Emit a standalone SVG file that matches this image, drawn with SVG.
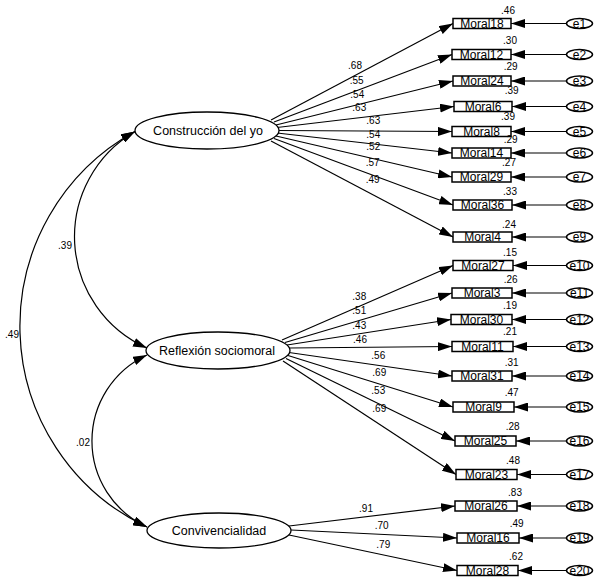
<svg xmlns="http://www.w3.org/2000/svg" width="600" height="586" viewBox="0 0 600 586">
<style>
.bg{fill:#fff}
.lat{fill:#fff;stroke:#000;stroke-width:1.3}
.box{fill:#fff;stroke:#000;stroke-width:1.5}
.err{fill:#fff;stroke:#000;stroke-width:1.5}
.ln{fill:none;stroke:#000;stroke-width:1.2;marker-end:url(#ah)}
.cov{fill:none;stroke:#000;stroke-width:1.2;marker-start:url(#ah);marker-end:url(#ah)}
text{font-family:"Liberation Sans",Arial,sans-serif;fill:#000}
.lt{font-size:12.5px;text-anchor:middle}
.bt{font-size:12px;text-anchor:middle}
.et{font-size:12px;text-anchor:middle}
.nm{font-size:10px;text-anchor:middle}
</style>
<defs>
<marker id="ah" viewBox="0 0 14 9" refX="14" refY="4.5" markerWidth="14" markerHeight="9" markerUnits="userSpaceOnUse" orient="auto-start-reverse"><path d="M0,0L14,4.5L0,9z" fill="#000"/></marker>
</defs>
<rect class="bg" x="0" y="0" width="600" height="586"/>
<g id="connectors">
<path class="cov" d="M135,131.5 A121.7,121.7 0 0 0 147,348"/>
<path class="cov" d="M135,131.5 A222.2,222.2 0 0 0 147,527"/>
<path class="cov" d="M147,355 A94.7,94.7 0 0 0 147,527"/>
<line class="ln" x1="271" y1="120" x2="453" y2="23.5"/>
<line class="ln" x1="274" y1="122" x2="452" y2="54.5"/>
<line class="ln" x1="276" y1="125" x2="453" y2="81"/>
<line class="ln" x1="277" y1="127.5" x2="454" y2="106.5"/>
<line class="ln" x1="278" y1="130.5" x2="452" y2="131.5"/>
<line class="ln" x1="277" y1="133" x2="452" y2="153"/>
<line class="ln" x1="276" y1="136" x2="452" y2="177"/>
<line class="ln" x1="274" y1="138.5" x2="453" y2="205"/>
<line class="ln" x1="271" y1="141" x2="453" y2="237"/>
<line class="ln" x1="282" y1="340" x2="453" y2="265.5"/>
<line class="ln" x1="285" y1="342.5" x2="452" y2="293"/>
<line class="ln" x1="287" y1="345" x2="451" y2="319.5"/>
<line class="ln" x1="289" y1="348" x2="452" y2="346.5"/>
<line class="ln" x1="289" y1="352.5" x2="452" y2="376"/>
<line class="ln" x1="288" y1="355.5" x2="453" y2="407"/>
<line class="ln" x1="286" y1="358.5" x2="455" y2="441"/>
<line class="ln" x1="283" y1="361" x2="456" y2="474.5"/>
<line class="ln" x1="289" y1="526" x2="455" y2="506"/>
<line class="ln" x1="291" y1="530" x2="457" y2="538"/>
<line class="ln" x1="289" y1="535" x2="457" y2="570.5"/>
<line class="ln" x1="566.5" y1="23.5" x2="511" y2="23.5"/>
<line class="ln" x1="566.5" y1="54.5" x2="511" y2="54.5"/>
<line class="ln" x1="566.5" y1="81" x2="511" y2="81"/>
<line class="ln" x1="566.5" y1="106.5" x2="512" y2="106.5"/>
<line class="ln" x1="566.5" y1="131.5" x2="511" y2="131.5"/>
<line class="ln" x1="566.5" y1="153" x2="511" y2="153"/>
<line class="ln" x1="566.5" y1="177" x2="511" y2="177"/>
<line class="ln" x1="566.5" y1="205" x2="512" y2="205"/>
<line class="ln" x1="566.5" y1="237" x2="512" y2="237"/>
<line class="ln" x1="566.5" y1="265.5" x2="513" y2="265.5"/>
<line class="ln" x1="566.5" y1="293" x2="512" y2="293"/>
<line class="ln" x1="566.5" y1="319.5" x2="512" y2="319.5"/>
<line class="ln" x1="566.5" y1="346.5" x2="513" y2="346.5"/>
<line class="ln" x1="566.5" y1="376" x2="512" y2="376"/>
<line class="ln" x1="566.5" y1="407" x2="514" y2="407"/>
<line class="ln" x1="566.5" y1="441" x2="516" y2="441"/>
<line class="ln" x1="566.5" y1="474.5" x2="517" y2="474.5"/>
<line class="ln" x1="566.5" y1="506" x2="517" y2="506"/>
<line class="ln" x1="566.5" y1="538" x2="519" y2="538"/>
<line class="ln" x1="566.5" y1="570.5" x2="518" y2="570.5"/>
<text class="nm" x="65" y="248.5">.39</text>
<text class="nm" x="12" y="337.5">.49</text>
<text class="nm" x="83" y="445.5">.02</text>
<text class="nm" x="355" y="68.5">.68</text>
<text class="nm" x="356.7" y="83.5">.55</text>
<text class="nm" x="357.3" y="97.5">.54</text>
<text class="nm" x="359.3" y="110.8">.63</text>
<text class="nm" x="373.3" y="123.5">.63</text>
<text class="nm" x="373.3" y="137.5">.54</text>
<text class="nm" x="373.3" y="150.2">.52</text>
<text class="nm" x="372.7" y="166.2">.57</text>
<text class="nm" x="372.7" y="182.8">.49</text>
<text class="nm" x="359.3" y="300.2">.38</text>
<text class="nm" x="359.3" y="314.2">.51</text>
<text class="nm" x="359.3" y="328.5">.43</text>
<text class="nm" x="360" y="342.8">.46</text>
<text class="nm" x="378.3" y="358.5">.56</text>
<text class="nm" x="379.3" y="375.5">.69</text>
<text class="nm" x="378.3" y="393.5">.53</text>
<text class="nm" x="379.3" y="411.8">.69</text>
<text class="nm" x="366" y="511.8">.91</text>
<text class="nm" x="381.7" y="529.2">.70</text>
<text class="nm" x="383.3" y="547.8">.79</text>
</g>
<g id="construccion"><ellipse class="lat" cx="207" cy="130.5" rx="72" ry="18.5"/><text class="lt" x="208" y="135">Construcción del yo</text></g>
<g id="reflexion"><ellipse class="lat" cx="218" cy="350.5" rx="72" ry="18.5"/><text class="lt" x="217" y="355">Reflexión sociomoral</text></g>
<g id="convivencialidad"><ellipse class="lat" cx="219" cy="530.5" rx="72" ry="17.5"/><text class="lt" x="219" y="535">Convivencialidad</text></g>
<g id="moral18"><rect class="box" x="453" y="18.5" width="58" height="10"/><text class="bt" x="482" y="27.8">Moral18</text><text class="nm" x="508" y="13.5">.46</text></g>
<g id="moral12"><rect class="box" x="452" y="49.5" width="59" height="10"/><text class="bt" x="481.5" y="58.8">Moral12</text><text class="nm" x="510" y="44.2">.30</text></g>
<g id="moral24"><rect class="box" x="453" y="76" width="58" height="10"/><text class="bt" x="482" y="85.3">Moral24</text><text class="nm" x="510.7" y="70.2">.29</text></g>
<g id="moral6"><rect class="box" x="454" y="101.5" width="58" height="10"/><text class="bt" x="483" y="110.8">Moral6</text><text class="nm" x="511.7" y="94.2">.39</text></g>
<g id="moral8"><rect class="box" x="452" y="126.5" width="59" height="10"/><text class="bt" x="481.5" y="135.8">Moral8</text><text class="nm" x="508" y="119.5">.39</text></g>
<g id="moral14"><rect class="box" x="452" y="148" width="59" height="10"/><text class="bt" x="481.5" y="157.3">Moral14</text><text class="nm" x="510.7" y="142.5">.29</text></g>
<g id="moral29"><rect class="box" x="452" y="172" width="59" height="10"/><text class="bt" x="481.5" y="181.3">Moral29</text><text class="nm" x="509" y="166.2">.27</text></g>
<g id="moral36"><rect class="box" x="453" y="200" width="59" height="10"/><text class="bt" x="482.5" y="209.3">Moral36</text><text class="nm" x="510" y="194.5">.33</text></g>
<g id="moral4"><rect class="box" x="453" y="232" width="59" height="10"/><text class="bt" x="482.5" y="241.3">Moral4</text><text class="nm" x="509" y="227.8">.24</text></g>
<g id="moral27"><rect class="box" x="453" y="260.5" width="60" height="10"/><text class="bt" x="483" y="269.8">Moral27</text><text class="nm" x="510" y="255.5">.15</text></g>
<g id="moral3"><rect class="box" x="452" y="288" width="60" height="10"/><text class="bt" x="482" y="297.3">Moral3</text><text class="nm" x="510.7" y="282.8">.26</text></g>
<g id="moral30"><rect class="box" x="451" y="314.5" width="61" height="10"/><text class="bt" x="481.5" y="323.8">Moral30</text><text class="nm" x="510" y="308.5">.19</text></g>
<g id="moral11"><rect class="box" x="452" y="341.5" width="61" height="10"/><text class="bt" x="482.5" y="350.8">Moral11</text><text class="nm" x="510" y="335.2">.21</text></g>
<g id="moral31"><rect class="box" x="452" y="371" width="60" height="10"/><text class="bt" x="482" y="380.3">Moral31</text><text class="nm" x="511.7" y="366.2">.31</text></g>
<g id="moral9"><rect class="box" x="453" y="402" width="61" height="10"/><text class="bt" x="483.5" y="411.3">Moral9</text><text class="nm" x="511.7" y="396.2">.47</text></g>
<g id="moral25"><rect class="box" x="455" y="436" width="61" height="10"/><text class="bt" x="485.5" y="445.3">Moral25</text><text class="nm" x="512.7" y="430.2">.28</text></g>
<g id="moral23"><rect class="box" x="456" y="469.5" width="61" height="10"/><text class="bt" x="486.5" y="478.8">Moral23</text><text class="nm" x="513" y="463.5">.48</text></g>
<g id="moral26"><rect class="box" x="455" y="501" width="62" height="10"/><text class="bt" x="486" y="510.3">Moral26</text><text class="nm" x="515" y="496.2">.83</text></g>
<g id="moral16"><rect class="box" x="457" y="533" width="62" height="10"/><text class="bt" x="488" y="542.3">Moral16</text><text class="nm" x="516.7" y="526.8">.49</text></g>
<g id="moral28"><rect class="box" x="457" y="565.5" width="61" height="10"/><text class="bt" x="487.5" y="574.8">Moral28</text><text class="nm" x="516" y="560.2">.62</text></g>
<g id="e1"><ellipse class="err" cx="579.5" cy="23.5" rx="13" ry="5"/><text class="et" x="579.5" y="27.8">e1</text></g>
<g id="e2"><ellipse class="err" cx="579.5" cy="54.5" rx="13" ry="5"/><text class="et" x="579.5" y="58.8">e2</text></g>
<g id="e3"><ellipse class="err" cx="579.5" cy="81" rx="13" ry="5"/><text class="et" x="579.5" y="85.3">e3</text></g>
<g id="e4"><ellipse class="err" cx="579.5" cy="106.5" rx="13" ry="5"/><text class="et" x="579.5" y="110.8">e4</text></g>
<g id="e5"><ellipse class="err" cx="579.5" cy="131.5" rx="13" ry="5"/><text class="et" x="579.5" y="135.8">e5</text></g>
<g id="e6"><ellipse class="err" cx="579.5" cy="153" rx="13" ry="5"/><text class="et" x="579.5" y="157.3">e6</text></g>
<g id="e7"><ellipse class="err" cx="579.5" cy="177" rx="13" ry="5"/><text class="et" x="579.5" y="181.3">e7</text></g>
<g id="e8"><ellipse class="err" cx="579.5" cy="205" rx="13" ry="5"/><text class="et" x="579.5" y="209.3">e8</text></g>
<g id="e9"><ellipse class="err" cx="579.5" cy="237" rx="13" ry="5"/><text class="et" x="579.5" y="241.3">e9</text></g>
<g id="e10"><ellipse class="err" cx="579.5" cy="265.5" rx="13" ry="5"/><text class="et" x="579.5" y="269.8">e10</text></g>
<g id="e11"><ellipse class="err" cx="579.5" cy="293" rx="13" ry="5"/><text class="et" x="579.5" y="297.3">e11</text></g>
<g id="e12"><ellipse class="err" cx="579.5" cy="319.5" rx="13" ry="5"/><text class="et" x="579.5" y="323.8">e12</text></g>
<g id="e13"><ellipse class="err" cx="579.5" cy="346.5" rx="13" ry="5"/><text class="et" x="579.5" y="350.8">e13</text></g>
<g id="e14"><ellipse class="err" cx="579.5" cy="376" rx="13" ry="5"/><text class="et" x="579.5" y="380.3">e14</text></g>
<g id="e15"><ellipse class="err" cx="579.5" cy="407" rx="13" ry="5"/><text class="et" x="579.5" y="411.3">e15</text></g>
<g id="e16"><ellipse class="err" cx="579.5" cy="441" rx="13" ry="5"/><text class="et" x="579.5" y="445.3">e16</text></g>
<g id="e17"><ellipse class="err" cx="579.5" cy="474.5" rx="13" ry="5"/><text class="et" x="579.5" y="478.8">e17</text></g>
<g id="e18"><ellipse class="err" cx="579.5" cy="506" rx="13" ry="5"/><text class="et" x="579.5" y="510.3">e18</text></g>
<g id="e19"><ellipse class="err" cx="579.5" cy="538" rx="13" ry="5"/><text class="et" x="579.5" y="542.3">e19</text></g>
<g id="e20"><ellipse class="err" cx="579.5" cy="570.5" rx="13" ry="5"/><text class="et" x="579.5" y="574.8">e20</text></g>
</svg>
